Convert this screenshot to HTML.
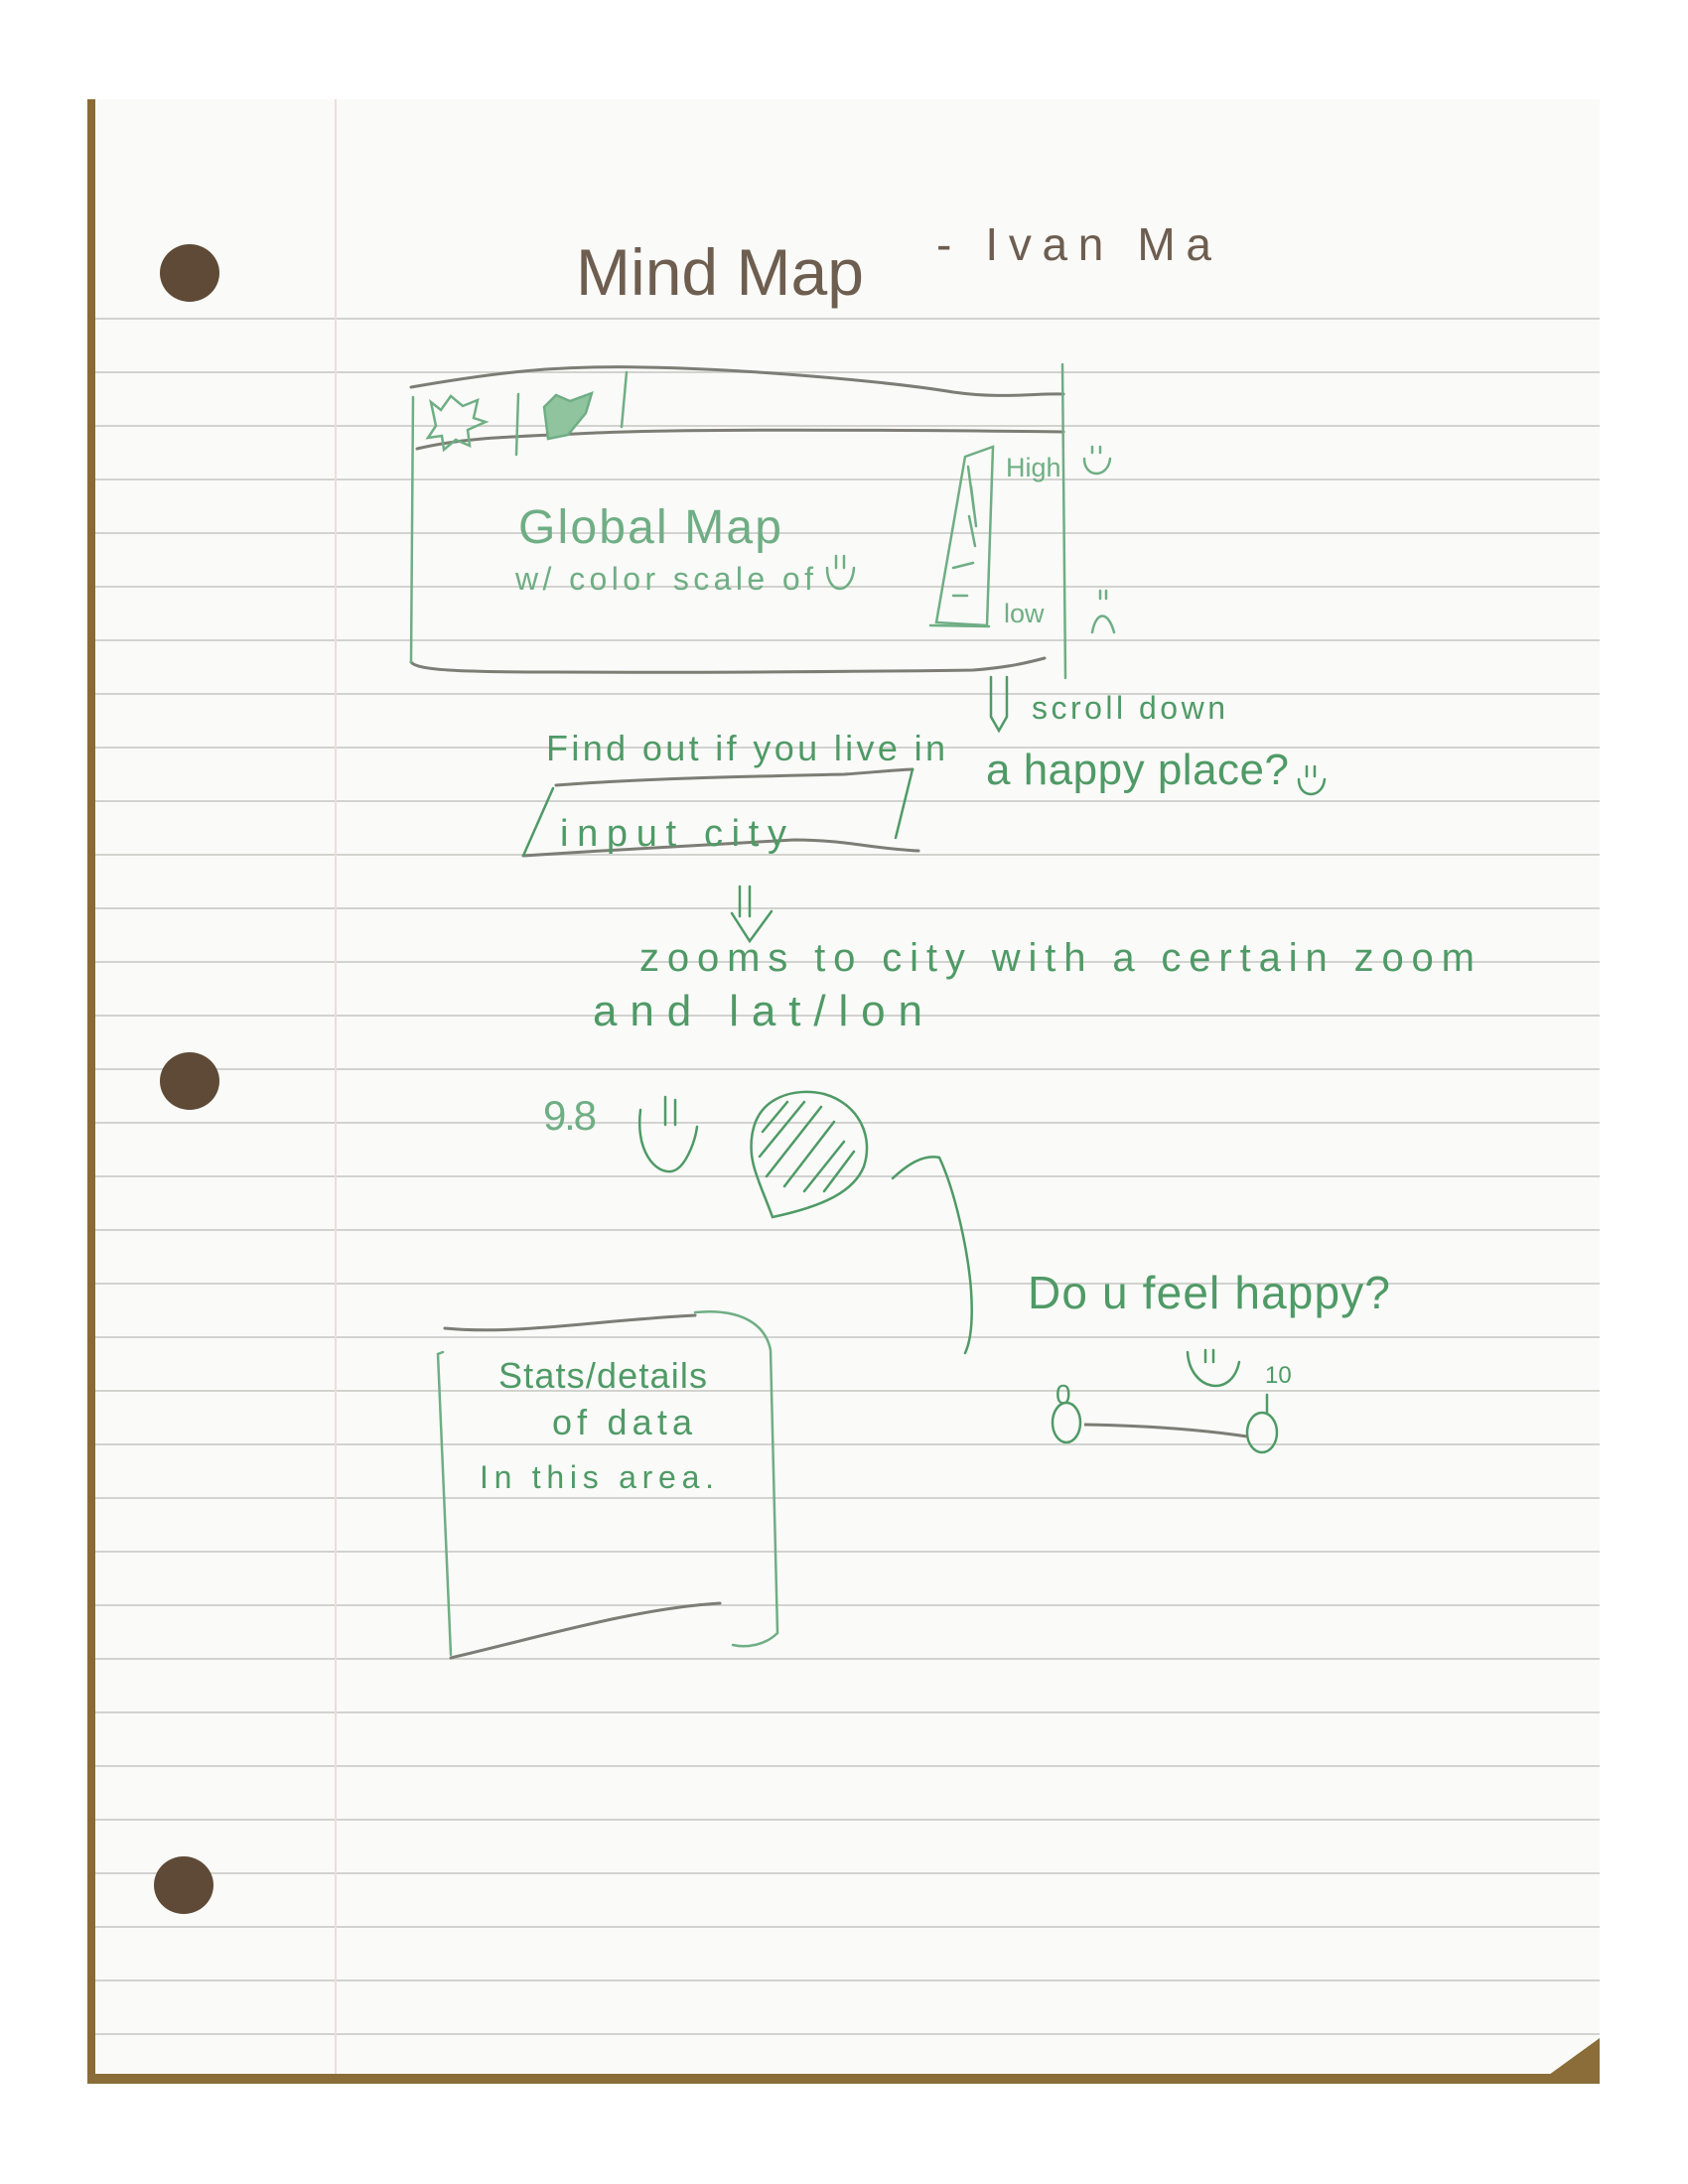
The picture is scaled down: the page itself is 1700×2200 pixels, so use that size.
<!DOCTYPE html>
<html><head><meta charset="utf-8"><style>
html,body{margin:0;padding:0;background:#fff;}
svg{display:block;}
text{font-family:"Liberation Sans",sans-serif;}
</style></head><body>
<svg width="1700" height="2200" viewBox="0 0 1700 2200" xmlns="http://www.w3.org/2000/svg">
<rect width="1700" height="2200" fill="#fff"/>
<polygon points="90,100 1611,100 1611,2053 1562,2090 90,2090" fill="#fafaf8"/>
<rect x="88" y="100" width="8" height="1998" fill="#8a6a35"/>
<rect x="88" y="2089" width="1523" height="10" fill="#8a6d38"/>
<polygon points="1560,2090 1611,2053 1611,2099 1560,2099" fill="#8a6d38"/>
<g stroke="#d2d2cf" stroke-width="2">
<line x1="96" y1="321" x2="1611" y2="321"/><line x1="96" y1="375" x2="1611" y2="375"/><line x1="96" y1="429" x2="1611" y2="429"/><line x1="96" y1="483" x2="1611" y2="483"/><line x1="96" y1="537" x2="1611" y2="537"/><line x1="96" y1="591" x2="1611" y2="591"/><line x1="96" y1="645" x2="1611" y2="645"/><line x1="96" y1="699" x2="1611" y2="699"/><line x1="96" y1="753" x2="1611" y2="753"/><line x1="96" y1="807" x2="1611" y2="807"/><line x1="96" y1="861" x2="1611" y2="861"/><line x1="96" y1="915" x2="1611" y2="915"/><line x1="96" y1="969" x2="1611" y2="969"/><line x1="96" y1="1023" x2="1611" y2="1023"/><line x1="96" y1="1077" x2="1611" y2="1077"/><line x1="96" y1="1131" x2="1611" y2="1131"/><line x1="96" y1="1185" x2="1611" y2="1185"/><line x1="96" y1="1239" x2="1611" y2="1239"/><line x1="96" y1="1293" x2="1611" y2="1293"/><line x1="96" y1="1347" x2="1611" y2="1347"/><line x1="96" y1="1401" x2="1611" y2="1401"/><line x1="96" y1="1455" x2="1611" y2="1455"/><line x1="96" y1="1509" x2="1611" y2="1509"/><line x1="96" y1="1563" x2="1611" y2="1563"/><line x1="96" y1="1617" x2="1611" y2="1617"/><line x1="96" y1="1671" x2="1611" y2="1671"/><line x1="96" y1="1725" x2="1611" y2="1725"/><line x1="96" y1="1779" x2="1611" y2="1779"/><line x1="96" y1="1833" x2="1611" y2="1833"/><line x1="96" y1="1887" x2="1611" y2="1887"/><line x1="96" y1="1941" x2="1611" y2="1941"/><line x1="96" y1="1995" x2="1611" y2="1995"/><line x1="96" y1="2049" x2="1611" y2="2049"/>
</g>
<line x1="338" y1="100" x2="338" y2="2089" stroke="#eedcdc" stroke-width="2"/>
<ellipse cx="191" cy="275" rx="30" ry="29" fill="#5e4a36"/>
<ellipse cx="191" cy="1089" rx="30" ry="29" fill="#5e4a36"/>
<ellipse cx="185" cy="1899" rx="30" ry="29" fill="#5e4a36"/>
<text x="580" y="297" font-size="66" fill="#6e5e50" textLength="290" lengthAdjust="spacing">Mind Map</text>
<text x="943" y="262" font-size="46" fill="#6e5e50" textLength="277" lengthAdjust="spacing">- Ivan Ma</text>
<g fill="none" stroke="#7d7d76" stroke-width="3" stroke-linecap="round">
<path d="M414,390 C500,375 560,368 650,370 C760,372 900,385 960,395 C1010,402 1040,396 1071,397"/>
<path d="M420,452 C470,440 520,440 600,436 C700,432 900,433 1071,435"/>
<path d="M414,667 C420,675 460,677 560,677 C760,678 900,676 980,675 C1020,672 1040,666 1052,663"/>
</g>
<g fill="none" stroke="#6fae84" stroke-width="2.5" stroke-linecap="round">
<line x1="522" y1="397" x2="520" y2="458"/>
<line x1="631" y1="375" x2="626" y2="430"/>
<path d="M416,400 L414,667"/>
<path d="M1070,367 L1073,683"/>
<path d="M972,460 L1000,450 L994,630 L943,627 Z"/>
<path d="M937,630 L996,631"/>
<path d="M975,470 l6,45 M978,490 l5,40 M976,520 l6,30 M960,572 l20,-5 M960,600 l14,0"/>
<path d="M434,405 l10,8 l10,-14 l12,10 l15,-6 l-4,18 l12,4 l-18,8 l2,16 l-14,-6 l-12,10 l-2,-14 l-14,2 l8,-12 z"/>
<path d="M548,410 l12,-12 l14,6 l22,-8 l-6,20 l-18,22 l-20,4 z" fill="#8fc49f"/>
</g>
<text x="1013" y="480" font-size="27" fill="#6fae84">High</text>
<text x="1011" y="627" font-size="27" fill="#6fae84">low</text>
<g fill="none" stroke="#6fae84" stroke-width="2.5" stroke-linecap="round">
<path d="M1092,462 C1092,482 1116,482 1118,462"/><path d="M1100,450 v6 M1108,450 v6"/>
<path d="M1100,637 C1104,615 1116,615 1122,637"/><path d="M1108,595 v8 M1114,595 v8"/>
</g>
<text x="522" y="547" font-size="48" fill="#6fae84" textLength="265" lengthAdjust="spacing">Global Map</text>
<text x="519" y="594" font-size="32" fill="#6fae84" textLength="300" lengthAdjust="spacing">w/ color scale of</text>
<g fill="none" stroke="#6fae84" stroke-width="2.5" stroke-linecap="round">
<path d="M833,572 C833,600 858,600 860,572"/><path d="M842,560 v12 M850,560 v12"/>
</g>
<g fill="none" stroke="#4f9a66" stroke-width="2.5" stroke-linecap="round">
<path d="M998,682 v40 l8,14 l8,-14 v-40"/>
</g>
<text x="1039" y="724" font-size="32" fill="#4f9a66" textLength="195" lengthAdjust="spacing">scroll down</text>
<text x="550" y="766" font-size="36" fill="#4f9a66" textLength="402" lengthAdjust="spacing">Find out if you live in</text>
<text x="993" y="790" font-size="44" fill="#4f9a66" textLength="305" lengthAdjust="spacing">a happy place?</text>
<g fill="none" stroke="#4f9a66" stroke-width="2.5" stroke-linecap="round">
<path d="M1308,785 C1308,805 1332,805 1334,785"/><path d="M1316,772 v10 M1324,772 v10"/>
</g>
<g fill="none" stroke="#7d7d76" stroke-width="3" stroke-linecap="round">
<path d="M560,791 C650,784 760,782 850,780 C880,778 895,776 919,775"/>
<path d="M527,862 C620,856 720,850 800,846 C850,846 880,855 925,857"/>
</g>
<g fill="none" stroke="#4f9a66" stroke-width="2.5" stroke-linecap="round">
<path d="M919,775 L902,844"/><path d="M557,794 L527,862"/>
</g>
<text x="564" y="852" font-size="38" fill="#4f9a66" textLength="228" lengthAdjust="spacing">input city</text>
<g fill="none" stroke="#4f9a66" stroke-width="2.5" stroke-linecap="round">
<path d="M745,893 v30 M755,893 v30 M737,920 l18,28 l22,-30"/>
</g>
<text x="644" y="978" font-size="40" fill="#4f9a66" textLength="841" lengthAdjust="spacing">zooms to city with a certain zoom</text>
<text x="597" y="1033" font-size="44" fill="#4f9a66" textLength="332" lengthAdjust="spacing">and lat/lon</text>
<text x="547" y="1138" font-size="42" fill="#6fae84" textLength="54" lengthAdjust="spacing">9.8</text>
<g fill="none" stroke="#4f9a66" stroke-width="2.5" stroke-linecap="round">
<path d="M645,1118 C640,1160 660,1182 676,1180 C690,1178 700,1150 702,1135"/><path d="M670,1105 v28 M680,1108 v25"/>
<path d="M778,1226 C765,1190 752,1170 758,1140 C765,1105 800,1095 830,1102 C865,1112 880,1145 870,1175 C860,1200 830,1215 778,1226 Z"/>
<path d="M768,1140 l25,-30 M765,1165 l45,-55 M772,1185 l55,-70 M790,1195 l50,-65 M810,1200 l40,-50 M830,1200 l30,-40"/>
<path d="M899,1187 C915,1172 930,1163 946,1166 C962,1200 975,1260 978,1300 C980,1330 978,1350 972,1363"/>
</g>
<text x="1035" y="1318" font-size="46" fill="#4f9a66" textLength="365" lengthAdjust="spacing">Do u feel happy?</text>
<g fill="none" stroke="#4f9a66" stroke-width="2.5" stroke-linecap="round">
<ellipse cx="1074" cy="1433" rx="14" ry="20"/>
<ellipse cx="1271" cy="1443" rx="15" ry="20"/>
<path d="M1196,1362 C1198,1400 1240,1410 1248,1372"/><path d="M1214,1360 v12 M1222,1360 v12"/>
<path d="M1276,1423 v-18"/>
</g>
<path d="M1092,1435 C1150,1436 1210,1440 1256,1447" fill="none" stroke="#7d7d76" stroke-width="3"/>
<text x="1063" y="1414" font-size="28" fill="#4f9a66">0</text>
<text x="1274" y="1393" font-size="24" fill="#4f9a66">10</text>
<g fill="none" stroke="#7d7d76" stroke-width="3" stroke-linecap="round">
<path d="M448,1338 C520,1345 600,1330 700,1325"/>
<path d="M454,1670 C540,1650 640,1620 725,1615"/>
</g>
<g fill="none" stroke="#6fae84" stroke-width="2.5" stroke-linecap="round">
<path d="M700,1322 C740,1318 770,1330 776,1360 L783,1645 C770,1658 750,1660 738,1657"/>
<path d="M446,1362 L441,1364 L454,1667"/>
</g>
<text x="502" y="1398" font-size="36" fill="#4f9a66" textLength="210" lengthAdjust="spacing">Stats/details</text>
<text x="556" y="1445" font-size="36" fill="#4f9a66" textLength="141" lengthAdjust="spacing">of data</text>
<text x="483" y="1499" font-size="32" fill="#4f9a66" textLength="236" lengthAdjust="spacing">In this area.</text>
</svg>
</body></html>
